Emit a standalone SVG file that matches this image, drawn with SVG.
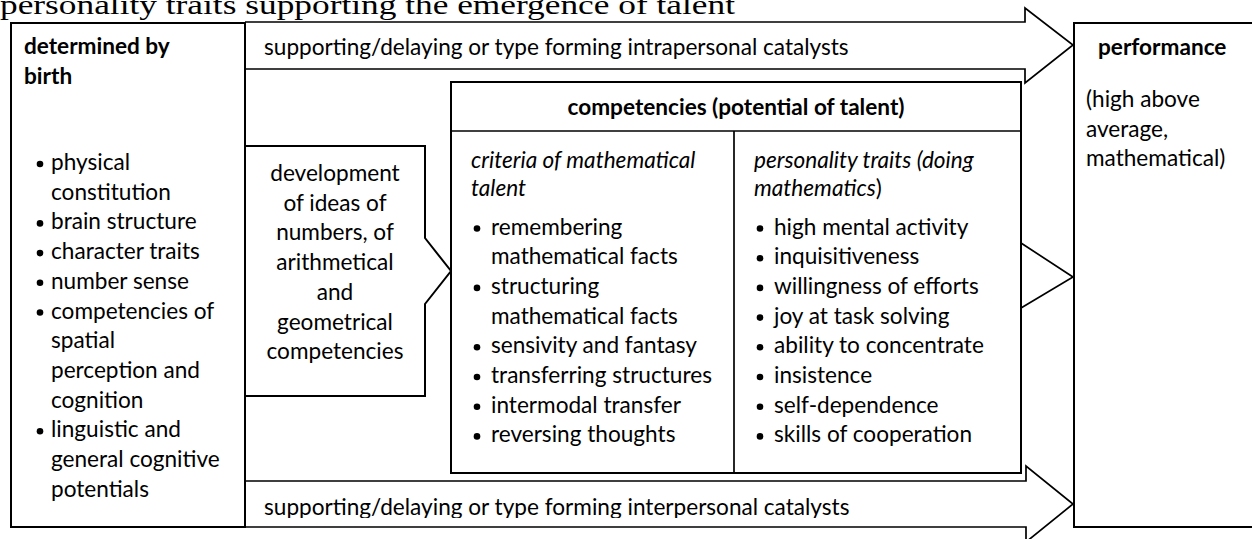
<svg xmlns="http://www.w3.org/2000/svg" width="1252" height="539" viewBox="0 0 1252 539">
<style>
.t{font-family:Lato,"Liberation Sans",sans-serif;font-size:22.6px;fill:#000}
.b{font-weight:bold}
.i{font-style:italic}
.c{text-anchor:middle}
.ttl{font-family:"Liberation Serif","DejaVu Serif",serif;font-size:28px;fill:#000}
.box{fill:#fff;stroke:#000;stroke-width:2}
.arr{fill:#fff;stroke:#000;stroke-width:1.7;stroke-linejoin:miter}
.ln{fill:none;stroke:#000;stroke-width:1.7}
</style>
<defs>
<circle id="dot" r="3.3" fill="#000"/>
<clipPath id="clipTop"><rect x="246" y="23" width="780" height="37"/></clipPath>
<clipPath id="clipBot"><rect x="246" y="482" width="780" height="36"/></clipPath>
</defs>
<rect width="1252" height="539" fill="#fff"/>

<g id="title">
<text class="ttl" x="0" y="14" textLength="735" lengthAdjust="spacingAndGlyphs">personality traits supporting the emergence of talent</text>
</g>

<g id="intrapersonal-catalysts">
<path class="arr" d="M245,22 H1025 V8 L1073,45 L1025,83 V69 H245"/>
<text class="t" x="264" y="55" clip-path="url(#clipTop)">supporting/delaying or type forming intrapersonal catalysts</text>
</g>

<g id="interpersonal-catalysts">
<path class="arr" d="M245,481 H1026 V466 L1073,504 L1026,542 V527 H245"/>
<text class="t" x="264" y="515" clip-path="url(#clipBot)">supporting/delaying or type forming interpersonal catalysts</text>
</g>

<g id="determined-by-birth">
<rect class="box" x="11" y="23" width="234" height="504"/>
<text class="t b" x="24" y="54">determined by</text>
<text class="t b" x="24" y="84">birth</text>
<use href="#dot" x="40" y="164"/>
<text class="t" x="51" y="170">physical</text>
<text class="t" x="51" y="199.7">constitution</text>
<use href="#dot" x="40" y="223.4"/>
<text class="t" x="51" y="229.4">brain structure</text>
<use href="#dot" x="40" y="253.1"/>
<text class="t" x="51" y="259.1">character traits</text>
<use href="#dot" x="40" y="282.8"/>
<text class="t" x="51" y="288.8">number sense</text>
<use href="#dot" x="40" y="312.5"/>
<text class="t" x="51" y="318.5">competencies of</text>
<text class="t" x="51" y="348.2">spatial</text>
<text class="t" x="51" y="377.9">perception and</text>
<text class="t" x="51" y="407.6">cognition</text>
<use href="#dot" x="40" y="431.3"/>
<text class="t" x="51" y="437.3">linguistic and</text>
<text class="t" x="51" y="467">general cognitive</text>
<text class="t" x="51" y="496.7">potentials</text>
</g>

<g id="development">
<path class="box" d="M245,146 H425 V238 L451,271 L425,304 V396 H245 Z"/>
<text class="t c" x="335" y="181">development</text>
<text class="t c" x="335" y="210.7">of ideas of</text>
<text class="t c" x="335" y="240.4">numbers, of</text>
<text class="t c" x="335" y="270.1">arithmetical</text>
<text class="t c" x="335" y="299.8">and</text>
<text class="t c" x="335" y="329.5">geometrical</text>
<text class="t c" x="335" y="359.2">competencies</text>
</g>

<g id="competencies">
<rect class="box" x="451" y="82" width="570" height="391"/>
<line class="ln" x1="451" y1="131" x2="1021" y2="131"/>
<line class="ln" x1="734" y1="131" x2="734" y2="473"/>
<text class="t b c" x="736" y="115">competencies (potential of talent)</text>
<g id="criteria">
<text class="t i" x="471" y="168">criteria of mathematical</text>
<text class="t i" x="471" y="196">talent</text>
<use href="#dot" x="477" y="228.5"/>
<text class="t" x="491" y="234.5">remembering</text>
<text class="t" x="491" y="264.2">mathematical facts</text>
<use href="#dot" x="477" y="287.9"/>
<text class="t" x="491" y="293.9">structuring</text>
<text class="t" x="491" y="323.6">mathematical facts</text>
<use href="#dot" x="477" y="347.3"/>
<text class="t" x="491" y="353.3">sensivity and fantasy</text>
<use href="#dot" x="477" y="377"/>
<text class="t" x="491" y="383">transferring structures</text>
<use href="#dot" x="477" y="406.7"/>
<text class="t" x="491" y="412.7">intermodal transfer</text>
<use href="#dot" x="477" y="436.4"/>
<text class="t" x="491" y="442.4">reversing thoughts</text>
</g>
<g id="personality-traits">
<text class="t i" x="754" y="168">personality traits (doing</text>
<text class="t" x="754" y="196"><tspan class="i">mathematics</tspan>)</text>
<use href="#dot" x="760" y="228.5"/>
<text class="t" x="774" y="234.5">high mental activity</text>
<use href="#dot" x="760" y="258.2"/>
<text class="t" x="774" y="264.2">inquisitiveness</text>
<use href="#dot" x="760" y="287.9"/>
<text class="t" x="774" y="293.9">willingness of efforts</text>
<use href="#dot" x="760" y="317.6"/>
<text class="t" x="774" y="323.6">joy at task solving</text>
<use href="#dot" x="760" y="347.3"/>
<text class="t" x="774" y="353.3">ability to concentrate</text>
<use href="#dot" x="760" y="377"/>
<text class="t" x="774" y="383">insistence</text>
<use href="#dot" x="760" y="406.7"/>
<text class="t" x="774" y="412.7">self-dependence</text>
<use href="#dot" x="760" y="436.4"/>
<text class="t" x="774" y="442.4">skills of cooperation</text>
</g>
</g>

<g id="performance">
<rect class="box" x="1074" y="23" width="200" height="504"/>
<text class="t b" x="1098" y="55">performance</text>
<text class="t" x="1086" y="107">(high above</text>
<text class="t" x="1086" y="137">average,</text>
<text class="t" x="1086" y="166">mathematical)</text>
</g>

<g id="connectors">
<polyline class="ln" points="1021,243 1073,277 1021,308"/>
</g>
</svg>
